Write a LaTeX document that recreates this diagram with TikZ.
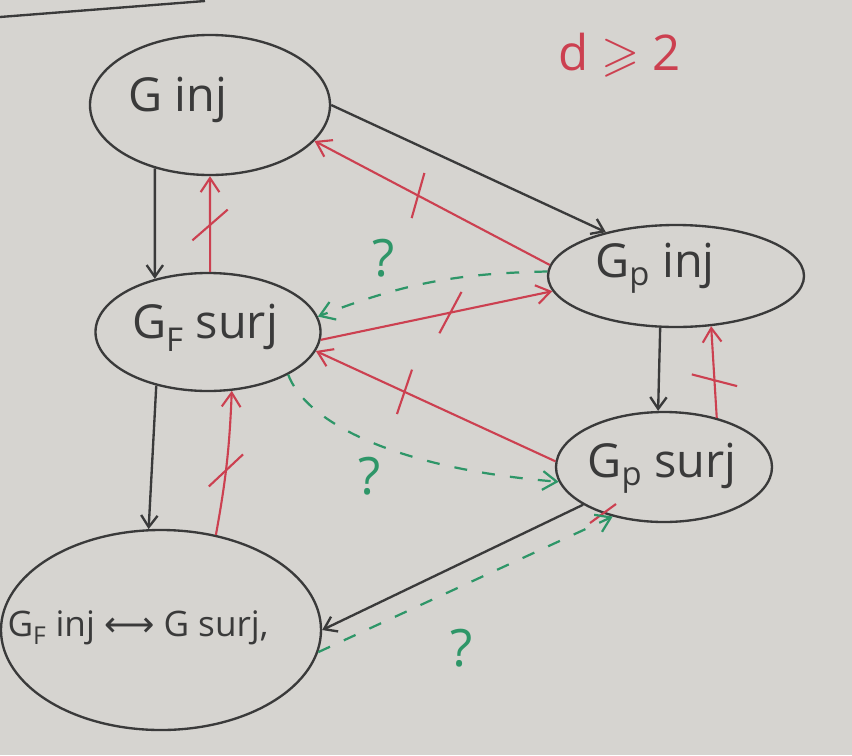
\documentclass[tikz,border=0pt]{standalone}
\usepackage{fontspec}
\usepackage{amssymb}
\setmainfont{Open Sans}
\newfontfamily\arrowfnt{DejaVu Sans}
\usetikzlibrary{shapes.geometric,arrows.meta,decorations.markings}
\definecolor{board}{RGB}{214,212,208}
\definecolor{ink}{RGB}{58,58,58}
\definecolor{rd}{RGB}{204,64,80}
\definecolor{gr}{RGB}{46,150,104}
\begin{document}
\begin{tikzpicture}[x=0.03cm,y=-0.03cm,
  ell/.style={ellipse, draw=ink, line width=2pt, inner sep=0pt},
  lbl/.style={text=ink, font=\fontsize{40}{48}\selectfont, inner sep=0pt},
  blk/.style={draw=ink, line width=2pt, -{Straight Barb[length=10pt,width=14pt]}},
  neg/.style 2 args={draw=rd, line width=1.8pt, -{Straight Barb[length=12pt,width=16pt]},
    decoration={markings, mark=at position #1 with {\draw[-, rd, line width=1.8pt] (#2:-20pt) -- (#2:20pt);}},
    postaction=decorate},
  qry/.style={draw=gr, line width=1.9pt, dash pattern=on 11pt off 13pt, -{Straight Barb[length=12pt,width=16pt]}},
  qm/.style={text=gr, font=\fontsize{44}{50}\selectfont, inner sep=0pt}
]
\fill[board] (0,0) rectangle (852,755);
\useasboundingbox (0,0) rectangle (852,755);
\draw[ink, line width=2pt] (0,17) -- (205,1);

% ellipses
\node[ell, minimum width=7.2cm, minimum height=4.2cm] (ginj) at (210,105) {};
\node[ell, minimum width=6.75cm, minimum height=3.54cm] (gfsurj) at (208,332) {};
\node[ell, minimum width=7.68cm, minimum height=3.06cm] (gpinj) at (676,276) {};
\node[ell, minimum width=6.48cm, minimum height=3.3cm] (gpsurj) at (664,467) {};
\node[ell, minimum width=9.6cm, minimum height=6.0cm] (bot) at (161,630) {};

% labels
\node[lbl] (ginjT) at (178,100) {G inj};
\node[lbl] (gfsurjT) at (205,328) {G\textsubscript{F} surj};
\node[lbl] (gpinjT) at (655,268) {G\textsubscript{p} inj};
\node[lbl] (gpsurjT) at (662,468) {G\textsubscript{p} surj};
\node[lbl, font=\fontsize{30}{36}\selectfont] (botT) at (138,628) {G\textsubscript{F} inj {\arrowfnt ⟷} G surj,};
\node[text=rd, font=\fontsize{42}{48}\selectfont, inner sep=0pt] (cond) at (620,55) {d $\geqslant$ 2};

% black implications
\draw[blk] (ginj.0) -- (gpinj.148);
\draw[blk] (ginj.-131) -- (gfsurj.135);
\draw[blk] (gfsurj.-134) -- (bot.97);
\draw[blk] (gpinj.-107) -- (gpsurj.96);
\draw[blk] (gpsurj.-155) -- (bot.0);

% red non-implications
\draw[neg={0.56}{102}] (gpinj.175) -- (ginj.-19);
\draw[neg={0.49}{131}] (gfsurj.88) -- (ginj.-90);
\draw[neg={0.56}{50}] (gfsurj.-4) -- (gpinj.187);
\draw[neg={0.63}{96}] (gpsurj.177) -- (gfsurj.-10);
\draw[neg={0.45}{140}] (bot.60) to[bend right=4] (gfsurj.-68);
\draw[neg={0.41}{72}] (gpsurj.43) -- (gpinj.-55);
\draw[rd, line width=1.8pt] (590,523) -- (616,504);

% green open questions
\draw[qry] (gpinj.178) to[bend right=10] (gfsurj.8);
\node[qm] (q1) at (384,258) {?};
\draw[qry] (gfsurj.-28) .. controls (305,420) and (390,468) .. (gpsurj.-172);
\node[qm] (q2) at (370,476) {?};
\draw[qry] (bot.-8) -- (gpsurj.-136);
\node[qm] (q3) at (462,648) {?};
\end{tikzpicture}
\end{document}
